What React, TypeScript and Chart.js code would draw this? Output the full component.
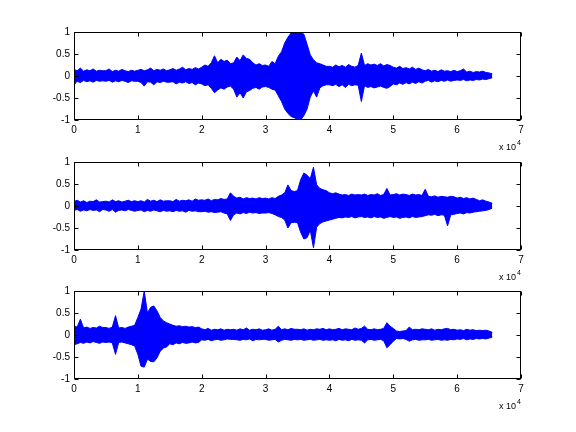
import React, { useEffect, useRef } from "react";
import { Chart, registerables } from "chart.js";

Chart.register(...registerables);

// sample step between envelope points (samples)
const STEP = 500;
const X_TICKS = [0, 1, 2, 3, 4, 5, 6, 7];
const Y_TICKS = [-1, -0.5, 0, 0.5, 1];

// Signal 1 envelope (max / min per 500-sample block)
const upper1 = [
  0.15, 0.12, 0.18, 0.11, 0.14, 0.12, 0.16, 0.11, 0.13, 0.12,
  0.12, 0.16, 0.1, 0.13, 0.11, 0.15, 0.12, 0.1, 0.13, 0.11,
  0.13, 0.15, 0.12, 0.14, 0.18, 0.12, 0.15, 0.13, 0.16, 0.12,
  0.14, 0.17, 0.13, 0.16, 0.2, 0.14, 0.17, 0.15, 0.19, 0.16,
  0.2, 0.25, 0.22, 0.3, 0.46, 0.3, 0.38, 0.33, 0.36, 0.28,
  0.3, 0.43, 0.35, 0.48, 0.4, 0.38, 0.3, 0.25, 0.28, 0.24,
  0.25, 0.22, 0.33, 0.28, 0.45, 0.55, 0.75, 0.88, 0.98, 1.0,
  1.0, 1.0, 0.95, 0.72, 0.48, 0.37, 0.3, 0.28, 0.25, 0.22,
  0.22, 0.2, 0.25, 0.21, 0.24, 0.2, 0.26, 0.22, 0.2, 0.24,
  0.52, 0.24, 0.28, 0.25, 0.27, 0.24, 0.28, 0.23, 0.26, 0.24,
  0.2, 0.18, 0.22, 0.17, 0.19, 0.16, 0.2, 0.15, 0.18, 0.14,
  0.12, 0.15, 0.11, 0.13, 0.1, 0.14, 0.11, 0.12, 0.1, 0.13,
  0.1, 0.12, 0.16, 0.09, 0.11, 0.08, 0.1, 0.09, 0.11, 0.08,
  0.07, 0.05,
];
const lower1 = [
  -0.2, -0.12, -0.15, -0.1, -0.13, -0.11, -0.14, -0.1, -0.12, -0.11,
  -0.12, -0.1, -0.14, -0.11, -0.13, -0.1, -0.12, -0.15, -0.11, -0.12,
  -0.12, -0.15, -0.23, -0.13, -0.14, -0.2, -0.13, -0.15, -0.12, -0.14,
  -0.14, -0.13, -0.18, -0.14, -0.16, -0.13, -0.17, -0.15, -0.2, -0.16,
  -0.18, -0.22, -0.2, -0.28, -0.38, -0.32, -0.27, -0.3, -0.25, -0.23,
  -0.3, -0.48, -0.38, -0.5, -0.36, -0.33, -0.28, -0.26, -0.3, -0.25,
  -0.24, -0.26, -0.3, -0.32, -0.45, -0.58, -0.75, -0.85, -0.92, -0.95,
  -0.98, -1.0, -0.9, -0.75, -0.48, -0.34, -0.48, -0.27, -0.22, -0.2,
  -0.2, -0.22, -0.19, -0.24, -0.2, -0.26, -0.19, -0.22, -0.2, -0.21,
  -0.58, -0.22, -0.26, -0.24, -0.27, -0.25, -0.23, -0.26, -0.28, -0.24,
  -0.18, -0.2, -0.16, -0.19, -0.15, -0.18, -0.14, -0.17, -0.13, -0.16,
  -0.12, -0.1, -0.14, -0.11, -0.13, -0.1, -0.12, -0.09, -0.12, -0.1,
  -0.09, -0.1, -0.08, -0.11, -0.09, -0.1, -0.08, -0.09, -0.07, -0.08,
  -0.06, -0.04,
];

// Signal 2 envelope
const upper2 = [
  0.1, 0.13, 0.09, 0.12, 0.08, 0.11, 0.1, 0.14, 0.09, 0.1,
  0.11, 0.09, 0.14, 0.1, 0.12, 0.09, 0.11, 0.13, 0.1, 0.12,
  0.1, 0.12, 0.09, 0.15, 0.11, 0.13, 0.1, 0.14, 0.11, 0.12,
  0.12, 0.1, 0.15, 0.11, 0.13, 0.12, 0.14, 0.11, 0.16, 0.13,
  0.14, 0.13, 0.16, 0.12, 0.15, 0.14, 0.17, 0.15, 0.16, 0.3,
  0.22, 0.18, 0.2, 0.16, 0.19, 0.17, 0.18, 0.16, 0.19, 0.17,
  0.18, 0.16, 0.19, 0.17, 0.22, 0.25, 0.3, 0.48, 0.35, 0.33,
  0.35, 0.6, 0.75, 0.7, 0.62, 0.88, 0.48, 0.4, 0.37, 0.35,
  0.3, 0.28, 0.3, 0.27, 0.25, 0.26, 0.24, 0.27, 0.25, 0.26,
  0.25, 0.27, 0.24, 0.26, 0.25, 0.28, 0.24, 0.26, 0.4, 0.25,
  0.26, 0.28, 0.25, 0.27, 0.26, 0.24, 0.27, 0.25, 0.26, 0.24,
  0.38, 0.22, 0.21, 0.23, 0.2, 0.22, 0.21, 0.2, 0.22, 0.21,
  0.18, 0.2, 0.17, 0.19, 0.16, 0.18, 0.15, 0.12, 0.14, 0.11,
  0.09, 0.06,
];
const lower2 = [
  -0.1, -0.08, -0.12, -0.09, -0.11, -0.08, -0.1, -0.09, -0.13, -0.08,
  -0.09, -0.12, -0.08, -0.14, -0.1, -0.09, -0.11, -0.08, -0.1, -0.12,
  -0.1, -0.09, -0.13, -0.1, -0.12, -0.09, -0.11, -0.13, -0.1, -0.12,
  -0.11, -0.13, -0.1, -0.12, -0.11, -0.14, -0.1, -0.12, -0.11, -0.13,
  -0.13, -0.12, -0.14, -0.13, -0.15, -0.14, -0.13, -0.16, -0.18, -0.33,
  -0.2, -0.16, -0.18, -0.15, -0.17, -0.14, -0.16, -0.15, -0.17, -0.16,
  -0.16, -0.15, -0.17, -0.2, -0.24, -0.26, -0.32, -0.5, -0.38, -0.37,
  -0.38, -0.6, -0.75, -0.72, -0.55, -0.95, -0.48, -0.4, -0.36, -0.34,
  -0.32, -0.3, -0.28, -0.26, -0.27, -0.25, -0.26, -0.24, -0.27, -0.25,
  -0.24, -0.26, -0.25, -0.27, -0.24, -0.26, -0.25, -0.28, -0.26, -0.24,
  -0.26, -0.25, -0.28, -0.26, -0.25, -0.27, -0.24, -0.26, -0.25, -0.24,
  -0.22, -0.2, -0.21, -0.19, -0.22, -0.2, -0.21, -0.45, -0.2, -0.19,
  -0.17, -0.16, -0.18, -0.15, -0.16, -0.14, -0.13, -0.12, -0.11, -0.1,
  -0.08, -0.05,
];

// Signal 3 envelope
const upper3 = [
  0.2, 0.18, 0.36, 0.16, 0.18, 0.15, 0.17, 0.16, 0.2, 0.17,
  0.17, 0.15, 0.18, 0.44, 0.16, 0.17, 0.15, 0.18, 0.2, 0.22,
  0.4, 0.59, 1.0, 0.5, 0.63, 0.66, 0.55, 0.4, 0.32, 0.28,
  0.25, 0.22, 0.2, 0.21, 0.19, 0.2, 0.18, 0.19, 0.17, 0.18,
  0.14, 0.12, 0.15, 0.11, 0.13, 0.12, 0.14, 0.11, 0.13, 0.12,
  0.13, 0.11, 0.14, 0.12, 0.16, 0.11, 0.13, 0.12, 0.14, 0.11,
  0.12, 0.14, 0.11, 0.13, 0.2, 0.12, 0.14, 0.12, 0.15, 0.13,
  0.13, 0.12, 0.14, 0.11, 0.13, 0.12, 0.14, 0.13, 0.15, 0.12,
  0.14, 0.12, 0.13, 0.15, 0.12, 0.14, 0.13, 0.12, 0.16, 0.13,
  0.15, 0.2, 0.13, 0.12, 0.14, 0.12, 0.13, 0.15, 0.28, 0.2,
  0.15, 0.09, 0.08, 0.09, 0.1, 0.18, 0.12, 0.13, 0.12, 0.14,
  0.13, 0.12, 0.14, 0.11, 0.13, 0.12, 0.14, 0.15, 0.12, 0.13,
  0.11, 0.12, 0.1, 0.13, 0.11, 0.12, 0.1, 0.11, 0.1, 0.11,
  0.09, 0.06,
];
const lower3 = [
  -0.22, -0.2, -0.17, -0.19, -0.16, -0.18, -0.15, -0.17, -0.19, -0.16,
  -0.17, -0.16, -0.18, -0.44, -0.17, -0.16, -0.18, -0.2, -0.22, -0.25,
  -0.44, -0.71, -0.73, -0.55, -0.6, -0.61, -0.52, -0.37, -0.3, -0.27,
  -0.2, -0.22, -0.18, -0.2, -0.17, -0.19, -0.18, -0.16, -0.18, -0.17,
  -0.11, -0.12, -0.1, -0.13, -0.11, -0.1, -0.12, -0.11, -0.09, -0.1,
  -0.1, -0.11, -0.12, -0.1, -0.11, -0.09, -0.13, -0.1, -0.11, -0.1,
  -0.1, -0.12, -0.11, -0.1, -0.16, -0.12, -0.1, -0.11, -0.12, -0.1,
  -0.11, -0.1, -0.12, -0.11, -0.1, -0.12, -0.11, -0.1, -0.12, -0.11,
  -0.12, -0.11, -0.13, -0.1, -0.12, -0.11, -0.13, -0.1, -0.12, -0.11,
  -0.12, -0.18, -0.11, -0.1, -0.12, -0.11, -0.1, -0.13, -0.29, -0.22,
  -0.14, -0.08, -0.09, -0.08, -0.1, -0.14, -0.11, -0.1, -0.12, -0.11,
  -0.11, -0.1, -0.12, -0.11, -0.1, -0.12, -0.11, -0.12, -0.1, -0.11,
  -0.09, -0.1, -0.08, -0.11, -0.09, -0.1, -0.08, -0.09, -0.08, -0.09,
  -0.07, -0.05,
];

const SIGNALS = [
  { upper: upper1, lower: lower1 },
  { upper: upper2, lower: lower2 },
  { upper: upper3, lower: lower3 },
];

const FONT = "'Liberation Sans', Arial, Helvetica, sans-serif";
const BLUE = "#0000ff";
const PANEL_TOPS = [20, 150, 279];
const CANVAS_W = 576;
const CANVAS_H = 130;

const framePlugin = {
  id: "matlabFrame",
  afterDraw(chart: any) {
    const { ctx, chartArea: a } = chart;
    const xs = chart.scales.x;
    const ys = chart.scales.y;
    ctx.save();
    ctx.strokeStyle = "#000";
    ctx.lineWidth = 1;
    const L = Math.round(a.left) + 0.5;
    const R = Math.round(a.right) - 0.5;
    const T = Math.round(a.top) + 0.5;
    const B = Math.round(a.bottom) - 0.5;
    ctx.strokeRect(L, T, R - L, B - T);
    const tl = 4;
    ctx.beginPath();
    xs.ticks.forEach((t: any) => {
      const p = Math.round(xs.getPixelForValue(t.value)) + 0.5;
      ctx.moveTo(p, B);
      ctx.lineTo(p, B - tl);
      ctx.moveTo(p, T);
      ctx.lineTo(p, T + tl);
    });
    ys.ticks.forEach((t: any) => {
      const p = Math.round(ys.getPixelForValue(t.value)) + 0.5;
      ctx.moveTo(L, p);
      ctx.lineTo(L + tl, p);
      ctx.moveTo(R, p);
      ctx.lineTo(R - tl, p);
    });
    ctx.stroke();
    // exponent label
    ctx.fillStyle = "#000";
    ctx.textBaseline = "alphabetic";
    ctx.textAlign = "left";
    ctx.font = `9px ${FONT}`;
    const base = a.bottom + 30;
    const txt = "x 10";
    const w = ctx.measureText(txt).width;
    const x0 = 499;
    ctx.fillText(txt, x0, base);
    ctx.font = `7px ${FONT}`;
    ctx.fillText("4", x0 + w + 1, base - 5);
    ctx.restore();
  },
};

function Panel({ idx }: { idx: number }) {
  const ref = useRef<HTMLCanvasElement | null>(null);
  useEffect(() => {
    if (!ref.current) return;
    const sig = SIGNALS[idx];
    const up = sig.upper.map((v, i) => ({ x: i * STEP, y: v }));
    const lo = sig.lower.map((v, i) => ({ x: i * STEP, y: v }));
    const chart = new Chart(ref.current, {
      type: "line",
      data: {
        datasets: [
          {
            data: up,
            borderColor: BLUE,
            backgroundColor: BLUE,
            borderWidth: 1,
            pointRadius: 0,
            tension: 0,
            fill: "+1",
          },
          {
            data: lo,
            borderColor: BLUE,
            backgroundColor: BLUE,
            borderWidth: 1,
            pointRadius: 0,
            tension: 0,
            fill: false,
          },
        ],
      },
      options: {
        animation: false,
        responsive: false,
        devicePixelRatio: 1,
        layout: { padding: { top: 12, right: 55, left: 0, bottom: 0 } },
        plugins: { legend: { display: false }, tooltip: { enabled: false } },
        scales: {
          x: {
            type: "linear",
            min: 0,
            max: 70000,
            grid: { display: false, drawTicks: false },
            border: { display: false },
            afterFit: (s: any) => {
              s.height = 30;
            },
            afterBuildTicks: (s: any) => {
              s.ticks = X_TICKS.map((v) => ({ value: v * 10000 }));
            },
            ticks: {
              padding: 4,
              color: "#000",
              font: { family: FONT, size: 10 },
              maxRotation: 0,
              autoSkip: false,
              callback: (v: any) => String(Number(v) / 10000),
            },
          },
          y: {
            type: "linear",
            min: -1,
            max: 1,
            grid: { display: false, drawTicks: false },
            border: { display: false },
            afterFit: (s: any) => {
              s.width = 74;
            },
            afterBuildTicks: (s: any) => {
              s.ticks = Y_TICKS.map((v) => ({ value: v }));
            },
            ticks: {
              padding: 4,
              color: "#000",
              font: { family: FONT, size: 10 },
              autoSkip: false,
              callback: (v: any) => String(v),
            },
          },
        },
      },
      plugins: [framePlugin],
    });
    return () => chart.destroy();
  }, [idx]);
  return (
    <canvas
      ref={ref}
      width={CANVAS_W}
      height={CANVAS_H}
      style={{
        position: "absolute",
        left: 0,
        top: PANEL_TOPS[idx],
        width: CANVAS_W,
        height: CANVAS_H,
      }}
    />
  );
}

export default function App() {
  return (
    <div
      style={{
        position: "fixed",
        left: 0,
        top: 0,
        width: 576,
        height: 432,
        background: "#fff",
        overflow: "hidden",
      }}
    >
      <Panel idx={0} />
      <Panel idx={1} />
      <Panel idx={2} />
    </div>
  );
}
